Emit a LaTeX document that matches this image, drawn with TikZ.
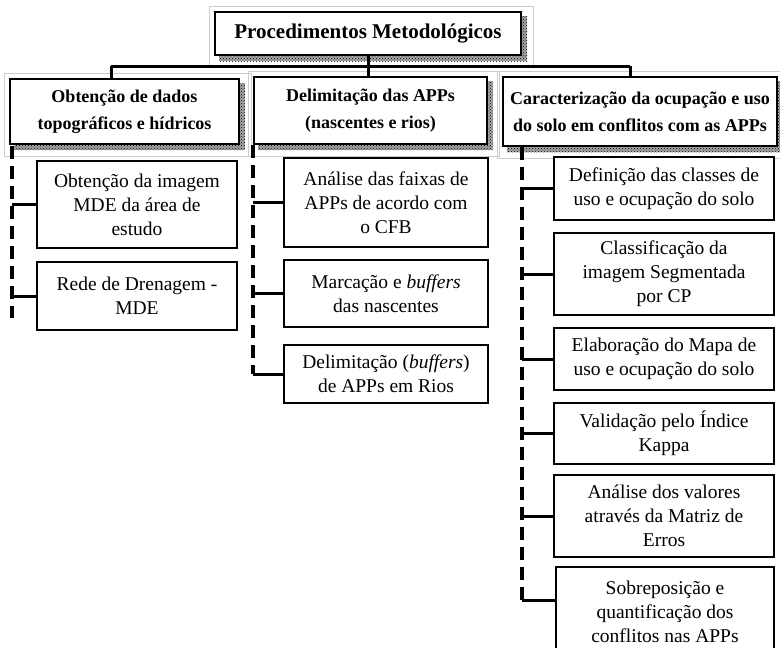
\documentclass[tikz,border=0pt]{standalone}
\usepackage{fontspec}
\setmainfont{Liberation Serif}
\usetikzlibrary{patterns,backgrounds}

\begin{document}
\begin{tikzpicture}[x=1pt, y=-1pt,
    titulo/.style={draw, line width=2pt, fill=white, minimum width=306pt, minimum height=43pt, font=\bfseries\fontsize{21}{25}\selectfont},
    cabecalho/.style={draw, line width=2pt, fill=white, align=center, font=\bfseries\fontsize{18}{27}\selectfont},
    etapa/.style={draw, line width=1.3pt, fill=white, align=center, inner sep=2pt, font=\fontsize{19.5}{24}\selectfont},
    ligacao/.style={line width=3pt},
    tracejado/.style={line width=3.5pt, dash pattern=on 13pt off 7pt}]
    \useasboundingbox (0, 0) rectangle (780, 648);

    % título
    \node[titulo] (tit) at (368, 33.5) {Procedimentos Metodológicos};

    % cabeçalhos
    \node[cabecalho, minimum width=229pt, minimum height=65pt] (obt) at (124.5, 111.5) {Obtenção de dados\\topográficos e hídricos};
    \node[cabecalho, minimum width=233pt, minimum height=67pt] (del) at (370.5, 110.5) {Delimitação das APPs\\(nascentes e rios)};
    \node[cabecalho, minimum width=274pt, minimum height=69pt] (car) at (640, 111.5) {Caracterização da ocupação e uso\\do solo em conflitos com as APPs};

    % sombras e molduras
    \begin{scope}[on background layer]
        \foreach \n in {tit, obt, del, car} {
            \draw[gray!40, line width=0.6pt] ([xshift=-5pt, yshift=5pt]\n.north west) rectangle ([xshift=11pt, yshift=-11pt]\n.south east);
            \fill[black!35] ([xshift=5pt, yshift=-5pt]\n.north west) rectangle ([xshift=5pt, yshift=-5pt]\n.south east);
            \fill[pattern=crosshatch dots] ([xshift=5pt, yshift=-5pt]\n.north west) rectangle ([xshift=5pt, yshift=-5pt]\n.south east);
        }
    \end{scope}

    % barra superior
    \coordinate (barraE) at (111, 66);
    \coordinate (barraD) at (630, 66);
    \draw[ligacao] (barraE) -- (barraD);
    \draw[ligacao] (barraE) -- (barraE |- obt.north);
    \draw[ligacao] (barraD) -- (barraD |- car.north);
    \draw[ligacao] (tit.south) -- (tit.south |- del.north);

    % coluna 1
    \node[etapa, minimum width=200pt, minimum height=87pt] (a1) at (137, 204.5) {Obtenção da imagem\\MDE da área de\\estudo};
    \node[etapa, minimum width=200pt, minimum height=68pt] (a2) at (137, 296) {Rede de Drenagem -\\MDE};
    \coordinate (t1) at (12, 146);
    \draw[tracejado] (t1) -- (12, 318);
    \foreach \e in {a1, a2}
        \draw[ligacao] (\e.west) -- (\e.west -| t1);

    % coluna 2
    \node[etapa, minimum width=204pt, minimum height=89pt] (b1) at (386, 202.5) {Análise das faixas de\\APPs de acordo com\\o CFB};
    \node[etapa, minimum width=204pt, minimum height=67pt] (b2) at (386, 293.5) {Marcação e \textit{buffers}\\das nascentes};
    \node[etapa, minimum width=204pt, minimum height=58pt] (b3) at (386, 374) {Delimitação (\textit{buffers})\\de APPs em Rios};
    \coordinate (t2) at (253, 145);
    \draw[tracejado] (t2) -- (b3.west -| t2);
    \foreach \e in {b1, b2, b3}
        \draw[ligacao] (\e.west) -- (\e.west -| t2);

    % coluna 3
    \node[etapa, minimum width=220pt, minimum height=63pt] (c1) at (664, 188.5) {Definição das classes de\\uso e ocupação do solo};
    \node[etapa, minimum width=220pt, minimum height=82pt] (c2) at (664, 274) {Classificação da\\imagem Segmentada\\por CP};
    \node[etapa, minimum width=220pt, minimum height=62pt] (c3) at (664, 359) {Elaboração do Mapa de\\uso e ocupação do solo};
    \node[etapa, minimum width=220pt, minimum height=61pt] (c4) at (664, 433.5) {Validação pelo Índice\\Kappa};
    \node[etapa, minimum width=220pt, minimum height=82pt] (c5) at (664, 516) {Análise dos valores\\através da Matriz de\\Erros};
    \node[etapa, minimum width=218pt, minimum height=90pt] (c6) at (665, 612) {Sobreposição e\\quantificação dos\\conflitos nas APPs};
    \coordinate (t3) at (522, 147);
    \coordinate (p6) at ([yshift=12pt]c6.west);
    \draw[tracejado] (t3) -- (p6 -| t3);
    \foreach \e in {c1, c2, c3, c4, c5}
        \draw[ligacao] (\e.west) -- (\e.west -| t3);
    \draw[ligacao] (p6) -- (p6 -| t3);
\end{tikzpicture}
\end{document}
